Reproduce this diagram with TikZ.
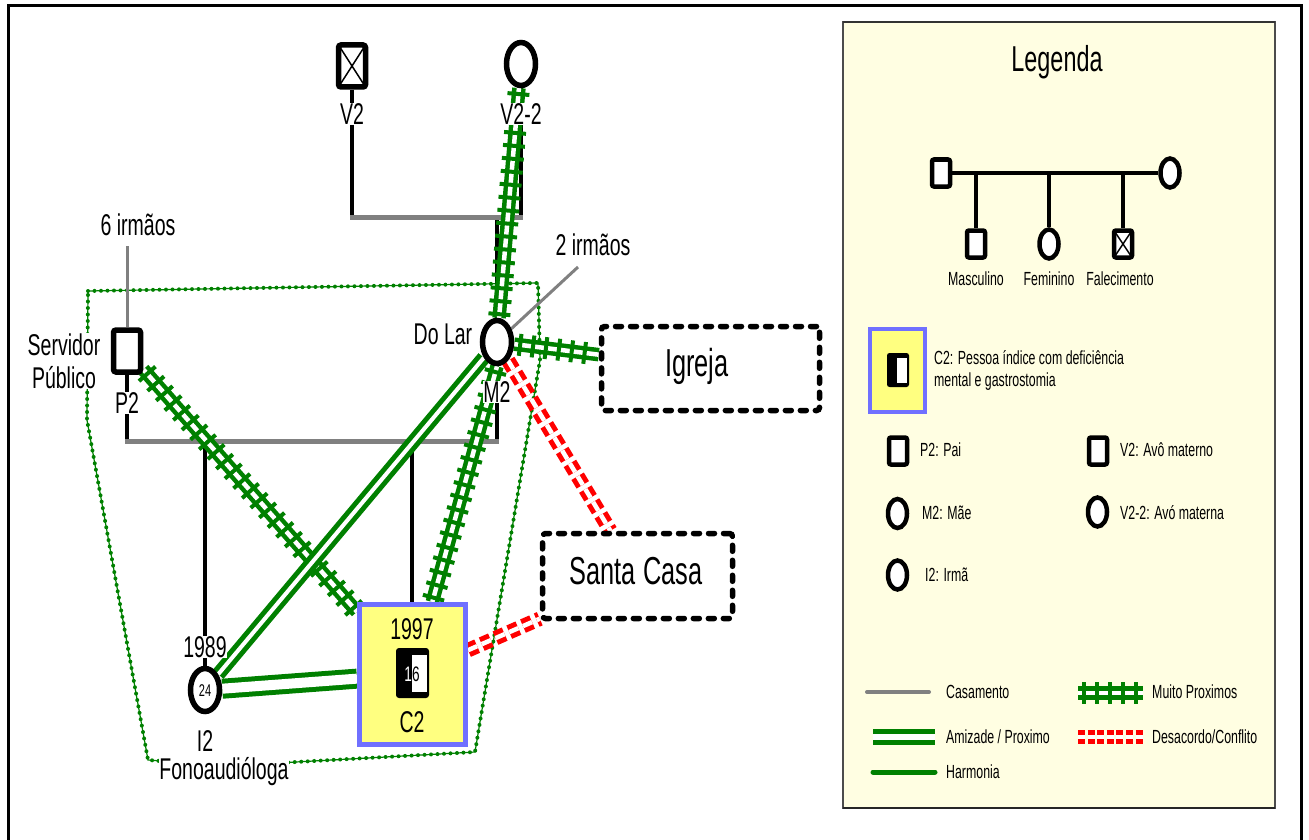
\documentclass[tikz,border=0pt]{standalone}
\usepackage{fontspec}
\setmainfont{Liberation Sans}[FakeStretch=0.65]
\usetikzlibrary{shapes.geometric,decorations.pathreplacing}
\pgfdeclarelayer{back}
\pgfdeclarelayer{links}
\pgfsetlayers{back,links,main}
\definecolor{tiegreen}{RGB}{0,128,0}
\definecolor{tiered}{RGB}{255,0,0}
\definecolor{tiegray}{RGB}{128,128,128}
\definecolor{indexfill}{RGB}{255,255,128}
\definecolor{indexline}{RGB}{112,112,255}
\definecolor{keyfill}{RGB}{255,254,226}
\newcommand\fsz[1]{\fontsize{#1}{#1}\selectfont}
% very close tie: double green line crossed by short bars
\newcommand\closetie[2]{%
  \draw[closebase] (#1) -- (#2);
  \draw[closeticks] (#1) -- (#2);}
\begin{document}
\begin{tikzpicture}[x=1pt,y=-1pt,
  sym/.style={draw=black, fill=white, line width=5.5pt, inner sep=0pt},
  male/.style={sym, rectangle, rounded corners=2.5pt, minimum width=27pt, minimum height=42pt},
  female/.style={sym, ellipse, minimum width=29pt, minimum height=43pt},
  deceased/.style={path picture={\draw[line width=1.5pt]
      (path picture bounding box.north west) -- (path picture bounding box.south east)
      (path picture bounding box.north east) -- (path picture bounding box.south west);}},
  kmale/.style={sym, line width=4.5pt, rectangle, rounded corners=2pt, minimum width=18pt, minimum height=27pt},
  kfemale/.style={sym, line width=4.5pt, ellipse, minimum width=19pt, minimum height=29pt},
  tag/.style={fill=white, inner sep=0.5pt, font=\fsz{30}},
  boxlab/.style={inner sep=0pt, font=\fsz{30}},
  keytext/.style={anchor=west, inner sep=0pt, font=\fsz{19}},
  keylab/.style={inner sep=0pt, font=\fsz{19}},
  venue/.style={rectangle, draw=black, line width=5.5pt, dash pattern=on 6pt off 9pt,
      line cap=round, rounded corners=3pt, fill=white, inner sep=0pt},
  proband/.style={rectangle, draw=indexline, fill=indexfill, line width=5pt, inner sep=0pt},
  ped/.style={draw=black, line width=4pt},
  marriage/.style={draw=tiegray, line width=5pt},
  kin/.style={draw=tiegray, line width=3pt},
  friend/.style={draw=tiegreen, line width=5pt, double=white, double distance=4pt},
  harmony/.style={draw=tiegreen, line width=5pt},
  closebase/.style={draw=tiegreen, line width=4.5pt, double=white, double distance=4.5pt},
  closeticks/.style={draw=tiegreen, line width=4pt, decorate,
      decoration={ticks, segment length=13pt, amplitude=11pt, pre=moveto, pre length=6pt,
                  post=moveto, post length=2pt}},
  conflict/.style={draw=tiered, line width=5pt, double=white, double distance=4.5pt,
      dash pattern=on 10pt off 5pt},
  household/.style={draw=tiegreen, line width=4pt, line cap=round, dash pattern=on 0pt off 6.5pt},
]
\useasboundingbox (0,0) rectangle (1309,840);

% ---------- frame and legend panel ----------
\begin{pgfonlayer}{back}
  \draw[line width=3pt] (8,845) -- (8,6) -- (1301,6) -- (1301,845);
  \draw[draw=black!70, line width=1.2pt, fill=keyfill] (843,22) rectangle (1275,808);
  \draw[draw=black!80, line width=2.5pt] (843,22) -- (1275,22);
  \draw[draw=black!85, line width=2.5pt] (843,808) -- (1275,808);
  % household boundary
  \draw[draw=tiegreen, line width=1.2pt] (88,291) -- (538,283) -- (540,360) -- (475,752)
      -- (224,766) -- (148,760) -- (87,420) -- cycle;
  \draw[household] (88,291) -- (538,283) -- (540,360) -- (475,752)
      -- (224,766) -- (148,760) -- (87,420) -- cycle;
\end{pgfonlayer}

% ---------- people and places ----------
\node[male, deceased] (v2) at (352,66) {};
\node[female] (v22) at (521,64) {};
\node[female] (m2) at (497,342) {};
\node[male] (p2) at (127,351) {};
\node[female] (i2) at (205,690) {};
\node[font=\fsz{17}, inner sep=0pt] (age) at (205,691) {24};
\node[proband, minimum width=106pt, minimum height=140pt] (c2) at (412.5,674.5) {};
\node[venue, minimum width=218pt, minimum height=84pt] (igreja) at (710.5,368.5) {};
\node[font=\fsz{39}, inner sep=0pt] (tigreja) at (697,366) {Igreja};
\node[venue, minimum width=190pt, minimum height=85pt] (santa) at (637.5,576) {};
\node[font=\fsz{39}, inner sep=0pt] (tsanta) at (636,571) {Santa Casa};

% index person symbol with age
\fill[rounded corners=3pt] (396,648) rectangle (429,698);
\fill[white] (412,655) rectangle (427,692);
\begin{scope}
  \clip (390,640) rectangle (412,705);
  \node[font=\fsz{21}, inner sep=0pt, text=white] (agec) at (412,674) {16};
\end{scope}
\begin{scope}
  \clip (412,640) rectangle (435,705);
  \node[font=\fsz{21}, inner sep=0pt] (agecb) at (412,674) {16};
\end{scope}

% labels
\node[tag] (lv2) at (352,114) {V2};
\node[tag] (lv22) at (521,114) {V2-2};
\node[tag] (lm2) at (497,392) {M2};
\node[tag] (ldolar) at (443,334) {Do Lar};
\node[tag] (l2irm) at (593,245) {2 irmãos};
\node[tag] (l6irm) at (138,225) {6 irmãos};
\node[tag, align=center, font=\fontsize{30}{33}\selectfont] (lserv) at (64,361) {Servidor\\Público};
\node[tag] (lp2) at (127,403) {P2};
\node[tag] (l1989) at (205,647) {1989};
\node[tag] (li2) at (205,741) {I2};
\node[tag] (lfono) at (224,772) {Fonoaudióloga};
\node[boxlab] (l1997) at (412,629) {1997};
\node[boxlab] (lc2) at (412,722) {C2};

% ---------- genogram lines and ties ----------
\coordinate (jv2) at (352,217);
\coordinate (jv22) at (521,217);
\coordinate (jm2) at (497,217);
\coordinate (jp) at (127,441);
\coordinate (jm) at (497,441);
\coordinate (ji) at (205,441);
\coordinate (jc) at (412,441);
\coordinate (k6) at (127,246);
\coordinate (k2) at (578,267);
\begin{pgfonlayer}{links}
  \draw[ped] (v2.south) -- (jv2);
  \draw[ped] (v22.south) -- (jv22);
  \draw[ped] (jm2) -- (m2.north);
  \draw[marriage] ([xshift=-2pt]jv2) -- ([xshift=2pt]jv22);
  \draw[ped] (p2.south) -- (jp);
  \draw[ped] (m2.south) -- (jm);
  \draw[ped] (ji) -- (i2.north);
  \draw[ped] (jc) -- (jc |- c2.north);
  \draw[marriage] ([xshift=-2pt]jp) -- ([xshift=2pt]jm);
  \draw[kin] (k6) -- (p2);
  \draw[kin] (k2) -- (m2);

  \closetie{v22}{m2}
  \closetie{m2}{igreja}
  \closetie{m2.south}{c2}
  \closetie{p2}{c2}
  \draw[friend] (m2) -- (i2);
  \draw[friend, double distance=10pt] (i2) -- (c2);
  \draw[conflict] (m2) -- (santa);
  \draw[conflict] (c2) -- (santa);
\end{pgfonlayer}

% ---------- legend ----------
\node[font=\fsz{36}, inner sep=0pt] (keytitle) at (1057,62) {Legenda};
\node[kmale] (kf) at (941,173) {};
\node[kfemale] (km) at (1170,173) {};
\node[kmale] (kson) at (976,244) {};
\node[kfemale] (kdau) at (1049,244) {};
\node[kmale, deceased] (kdead) at (1123,244) {};
\node[keylab] (tson) at (976,279) {Masculino};
\node[keylab] (tdau) at (1049,279) {Feminino};
\node[keylab] (tdead) at (1120,279) {Falecimento};
\coordinate (kj1) at (976,173);
\coordinate (kj2) at (1049,173);
\coordinate (kj3) at (1123,173);

\node[proband, line width=4pt, minimum width=55pt, minimum height=83pt] (kidx) at (897.5,370.5) {};
\fill[rounded corners=2.5pt] (887,353) rectangle (909,387);
\fill[white] (897,358) rectangle (907,383);
\node[keytext] (tidx1) at (934,358) {C2: Pessoa índice com deficiência};
\node[keytext] (tidx2) at (934,382) {mental e gastrostomia};

\node[kmale] (kp2) at (898,451) {};
\node[keytext] (tp2) at (920,450) {P2: Pai};
\node[kmale] (kv2) at (1098,451) {};
\node[keytext] (tv2) at (1120,450) {V2: Avô materno};
\node[kfemale] (km2) at (897.5,513.5) {};
\node[keytext] (tm2) at (922,513) {M2: Mãe};
\node[kfemale] (kv22) at (1097.5,512) {};
\node[keytext] (tv22) at (1120,513) {V2-2: Avó materna};
\node[kfemale] (ki2) at (897.5,575) {};
\node[keytext] (ti2) at (925,575) {I2: Irmã};

\coordinate (ka1) at (867,692);  \coordinate (ka2) at (929,692);
\coordinate (kb1) at (1078,693); \coordinate (kb2) at (1143,693);
\coordinate (kc1) at (873,737);  \coordinate (kc2) at (935,737);
\coordinate (kd1) at (1078,737); \coordinate (kd2) at (1144,737);
\coordinate (ke1) at (873,772);  \coordinate (ke2) at (935,772);
\node[keytext] (ta) at (946,692) {Casamento};
\node[keytext] (tb) at (1152,692) {Muito Proximos};
\node[keytext] (tc) at (946,737) {Amizade / Proximo};
\node[keytext] (td) at (1152,737) {Desacordo/Conflito};
\node[keytext] (te) at (946,772) {Harmonia};

\begin{pgfonlayer}{links}
  \draw[ped] (kf) -- (km);
  \draw[ped] (kj1) -- (kson.north);
  \draw[ped] (kj2) -- (kdau.north);
  \draw[ped] (kj3) -- (kdead.north);
  \draw[marriage, line width=4pt, line cap=round] (ka1) -- (ka2);
  \closetie{kb1}{kb2}
  \draw[friend, double distance=5.5pt] (kc1) -- (kc2);
  \draw[conflict, dash pattern=on 7pt off 2.6pt] (kd1) -- (kd2);
  \draw[harmony, line cap=round] (ke1) -- (ke2);
\end{pgfonlayer}
\end{tikzpicture}
\end{document}
